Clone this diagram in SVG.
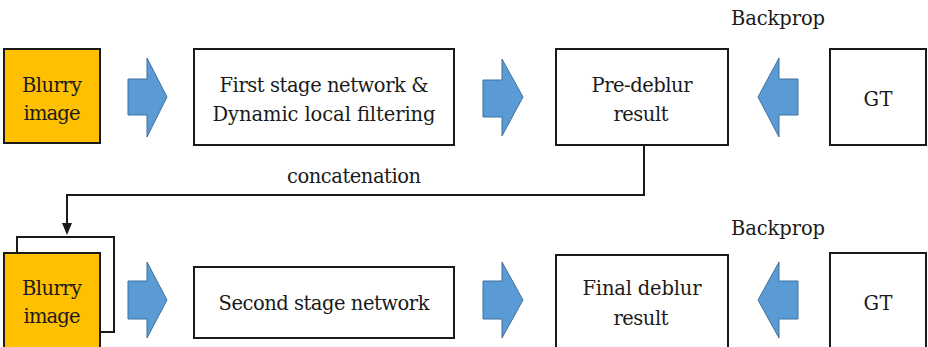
<svg xmlns="http://www.w3.org/2000/svg" width="928" height="347" viewBox="0 0 928 347" font-family="'DejaVu Serif', 'Liberation Serif', serif">
<defs>
<style>
.box{fill:#fff;stroke:#1a1a1a;stroke-width:2}
.blur{fill:#FFC000;stroke:#1a1a1a;stroke-width:2}
.arr{fill:#5B9BD5;stroke:#41719C;stroke-width:1}
.t{font-size:19.5px;fill:#1a1a1a;text-anchor:middle}
.conn{fill:none;stroke:#1a1a1a;stroke-width:2}
</style>
</defs>
<rect width="928" height="347" fill="#fff"/>

<g id="connectors">
<path class="conn" d="M644,145 V195 H67 V223"/>
<path d="M62,223 L72,223 L67,235 Z" fill="#1a1a1a"/>
<path id="arrow1" class="arr" d="M128,79 H147 V58 L167,97 L147,137 V115 H128 Z"/>
<path id="arrow2" class="arr" d="M483,80 H502 V59 L523,97 L502,136 V117 H483 Z"/>
<path id="arrow3" class="arr" d="M798,79 H779 V58 L758,97 L779,137 V115 H798 Z"/>
<path id="arrow4" class="arr" d="M128,281 H147 V262 L167,300 L147,338 V319 H128 Z"/>
<path id="arrow5" class="arr" d="M483,281 H502 V262 L523,300 L502,338 V319 H483 Z"/>
<path id="arrow6" class="arr" d="M798,281 H779 V262 L758,300 L779,338 V319 H798 Z"/>
<text class="t" x="354" y="183" textLength="134">concatenation</text>
<text class="t" x="778" y="25" textLength="94">Backprop</text>
<text class="t" x="778" y="235" textLength="94">Backprop</text>
</g>

<g id="blurry1">
<rect class="blur" x="4" y="49" width="96" height="94"/>
<text class="t" x="52" y="92" textLength="60">Blurry</text>
<text class="t" x="52" y="120" textLength="57">image</text>
</g>
<g id="stage1">
<rect class="box" x="194" y="49" width="260" height="96"/>
<text class="t" x="324" y="92" textLength="209">First stage network &amp;</text>
<text class="t" x="324" y="121" textLength="223">Dynamic local filtering</text>
</g>
<g id="predeblur">
<rect class="box" x="556" y="49" width="172" height="96"/>
<text class="t" x="642" y="92" textLength="101">Pre-deblur</text>
<text class="t" x="641" y="121" textLength="55">result</text>
</g>
<g id="gt1">
<rect class="box" x="830" y="49" width="96" height="96"/>
<text class="t" x="878" y="106" textLength="29">GT</text>
</g>

<g id="blurry2">
<rect class="box" x="17" y="237" width="97" height="95"/>
<rect class="blur" x="4" y="253" width="96" height="100"/>
<text class="t" x="52" y="295" textLength="60">Blurry</text>
<text class="t" x="52" y="323" textLength="57">image</text>
</g>
<g id="stage2">
<rect class="box" x="194" y="267" width="260" height="71"/>
<text class="t" x="324" y="310" textLength="211">Second stage network</text>
</g>
<g id="finaldeblur">
<rect class="box" x="556" y="255" width="172" height="100"/>
<text class="t" x="642" y="295" textLength="119">Final deblur</text>
<text class="t" x="641" y="325" textLength="55">result</text>
</g>
<g id="gt2">
<rect class="box" x="830" y="253" width="96" height="100"/>
<text class="t" x="878" y="310" textLength="29">GT</text>
</g>
</svg>
